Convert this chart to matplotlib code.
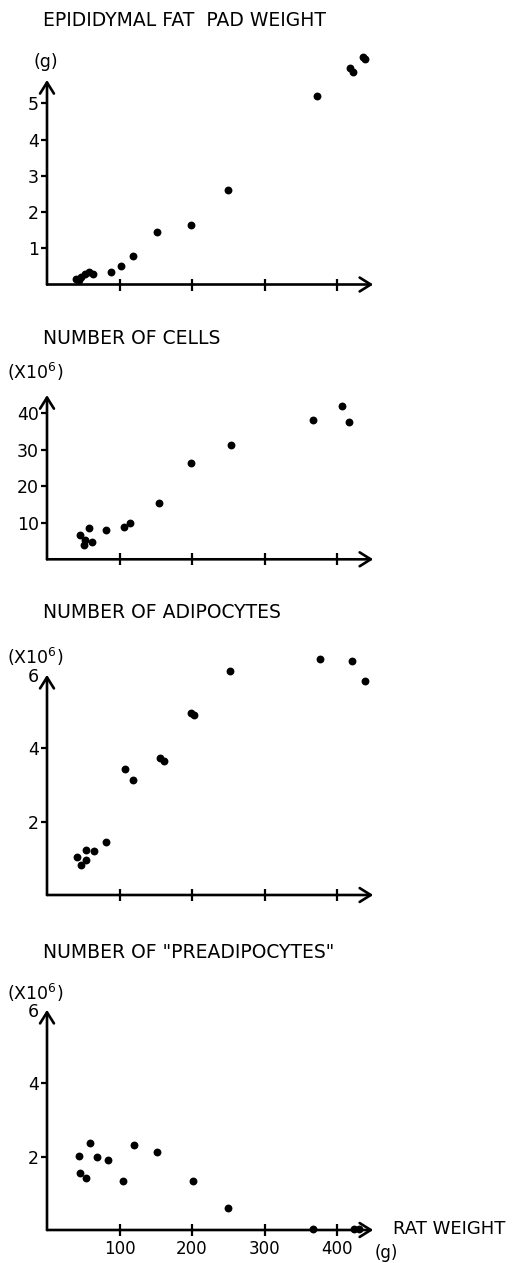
import numpy as np
import matplotlib
matplotlib.use("Agg")
import matplotlib.pyplot as plt

#=========================================================================================
# data (rat weight in g)
fat_x = [40, 44, 47, 52, 58, 63, 88, 102, 118, 152, 198, 249, 373, 418, 422, 436, 439]
fat_y = [0.14, 0.12, 0.22, 0.30, 0.35, 0.30, 0.35, 0.51, 0.79, 1.46, 1.64, 2.61, 5.21, 5.97, 5.88, 6.29, 6.22]

cells_x = [46, 51, 53, 58, 62, 81, 106, 114, 155, 198, 254, 367, 407, 416]
cells_y = [6.7, 3.9, 5.3, 8.5, 4.8, 8.1, 8.8, 9.9, 15.3, 26.5, 31.2, 38.1, 41.9, 37.5]

adipo_x = [42, 47, 54, 54, 65, 81, 107, 119, 156, 162, 199, 203, 253, 377, 421, 438]
adipo_y = [1.03, 0.82, 0.95, 1.23, 1.21, 1.45, 3.42, 3.13, 3.74, 3.66, 4.97, 4.90, 6.10, 6.43, 6.38, 5.84]

preadipo_x = [44, 45, 54, 59, 69, 84, 105, 120, 152, 201, 250, 367, 424, 431]
preadipo_y = [2.02, 1.56, 1.41, 2.36, 2.00, 1.91, 1.34, 2.32, 2.12, 1.34, 0.59, 0.02, 0.02, 0.02]

titles = ['EPIDIDYMAL FAT  PAD WEIGHT', 'NUMBER OF CELLS', 'NUMBER OF ADIPOCYTES',
          'NUMBER OF "PREADIPOCYTES"']
units = ['(g)', '(X10$^{6}$)', '(X10$^{6}$)', '(X10$^{6}$)']
y_ticks = [[1, 2, 3, 4, 5], [10, 20, 30, 40], [2, 4, 6], [2, 4, 6]]
x_ticks = [100, 200, 300, 400]

#=========================================================================================
W, H = 517, 1263
fig = plt.figure(figsize=(W / 100, H / 100), dpi=100)
fig.patch.set_facecolor('white')

def px(x, y):
    return x / W, 1 - y / H

# per panel: pixel row of y=0, pixels per y unit, ylim top, arrow top, title row, unit row
panels = [
    (fat_x, fat_y, 284.5, 36.2, 6.6, 5.65, 20, 62),
    (cells_x, cells_y, 559.3, 3.65, 46, 45, 338, 372),
    (adipo_x, adipo_y, 895, 36.7, 6.6, 6.0, 613, 657),
    (preadipo_x, preadipo_y, 1230, 36.7, 6.6, 6.0, 952, 993),
]

x0_px = 47
x_scale = 0.725   # pixels per gram
x_max = 460
lw = 1.9

for i, (xs, ys, y0, yscale, ytop, arrow_top, title_y, unit_y) in enumerate(panels):
    left, bottom = px(x0_px, y0)
    ax = fig.add_axes([left, bottom, x_max * x_scale / W, ytop * yscale / H])
    ax.set_xlim(0, x_max)
    ax.set_ylim(0, ytop)
    ax.patch.set_alpha(0)
    for s in ax.spines.values():
        s.set_visible(False)

    # axes drawn as arrows
    arrow = dict(arrowstyle='->,head_length=0.8,head_width=0.5', lw=lw, color='black',
                 mutation_scale=10, shrinkA=0, shrinkB=0)
    ax.annotate('', xy=(450, 0), xytext=(0, 0), arrowprops=arrow, annotation_clip=False)
    ax.annotate('', xy=(0, arrow_top), xytext=(0, 0), arrowprops=arrow, annotation_clip=False)

    ax.set_xticks(x_ticks)
    ax.set_yticks(y_ticks[i])
    ax.tick_params(axis='x', direction='inout', length=9, width=1.6, colors='black')
    ax.tick_params(axis='y', direction='out', length=4, width=1.6, pad=2, labelsize=12.5, colors='black')
    if y_ticks[i][-1] == 6:
        ax.yaxis.get_major_ticks()[-1].tick1line.set_visible(False)
    if i == 3:
        ax.set_xticklabels([str(t) for t in x_ticks], fontsize=12)
        ax.tick_params(axis='x', pad=3)
    else:
        ax.set_xticklabels([])

    ax.scatter(xs, ys, s=32, color='black', clip_on=False, zorder=5, linewidths=0)

    fig.text(*px(43, title_y), titles[i], fontsize=13.5, ha='left', va='center')
    if i == 0:
        fig.text(*px(46, unit_y), units[i], fontsize=12.5, ha='center', va='center')
    else:
        fig.text(*px(35, unit_y), units[i], fontsize=12.5, ha='center', va='center')

fig.text(*px(393, 1229), 'RAT WEIGHT', fontsize=13, ha='left', va='center')
fig.text(*px(386, 1253), '(g)', fontsize=12, ha='center', va='center')

fig.savefig('out.png', dpi=100, facecolor='white')
